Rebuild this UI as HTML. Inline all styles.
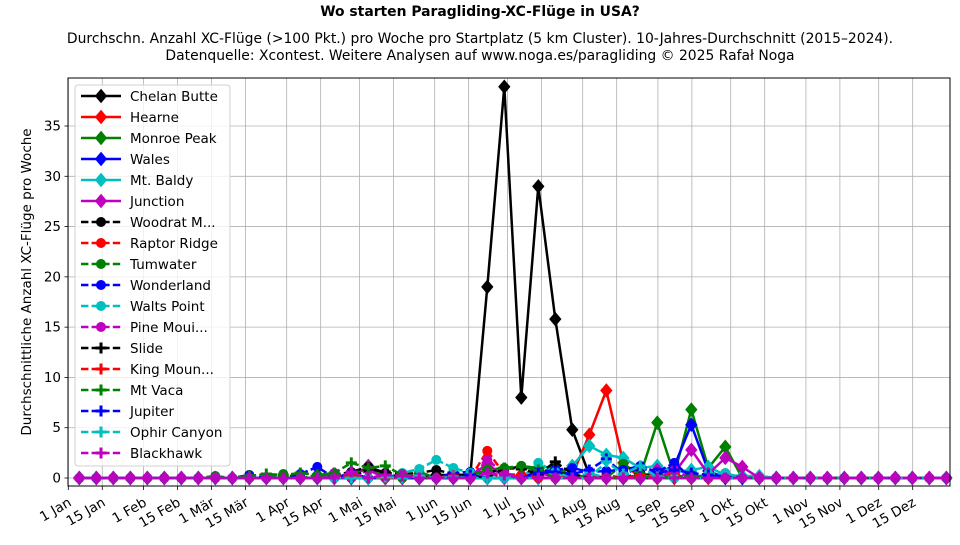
<!DOCTYPE html>
<html><head><meta charset="utf-8"><style>
body{margin:0;background:#fff;}
svg{font-family:"DejaVu Sans","Liberation Sans",sans-serif;}
</style></head><body>
<svg id="s" width="960" height="540" xmlns="http://www.w3.org/2000/svg">
<rect width="960" height="540" fill="#fff"/>
<text x="480" y="16" text-anchor="middle" font-size="13.9" font-weight="bold">Wo starten Paragliding-XC-Flüge in USA?</text>
<text x="480" y="43" text-anchor="middle" font-size="13.9">Durchschn. Anzahl XC-Flüge (&gt;100 Pkt.) pro Woche pro Startplatz (5 km Cluster). 10-Jahres-Durchschnitt (2015–2024).</text>
<text x="480" y="60" text-anchor="middle" font-size="13.9">Datenquelle: Xcontest. Weitere Analysen auf www.noga.es/paragliding © 2025 Rafał Noga</text>
<g id="grid" stroke="#b0b0b0" stroke-width="0.8"></g>
<g id="ylab" font-size="13.5" text-anchor="end"></g>
<g id="xlab" font-size="13.5" text-anchor="end"></g>
<text transform="translate(31,282) rotate(-90)" text-anchor="middle" font-size="13.5">Durchschnittliche Anzahl XC-Flüge pro Woche</text>
<g id="series"></g>
<rect x="68" y="78" width="882" height="408" fill="none" stroke="#000" stroke-width="1"/>
<g id="legend">
<rect x="75" y="85" width="155" height="381" rx="3" fill="#fff" fill-opacity="0.8" stroke="#d0d0d0"/>
<g id="legitems"></g>
<g font-size="13.5">
<text x="130" y="101">Chelan Butte</text>
<text x="130" y="122">Hearne</text>
<text x="130" y="143">Monroe Peak</text>
<text x="130" y="164">Wales</text>
<text x="130" y="185">Mt. Baldy</text>
<text x="130" y="206">Junction</text>
<text x="130" y="227">Woodrat M...</text>
<text x="130" y="248">Raptor Ridge</text>
<text x="130" y="269">Tumwater</text>
<text x="130" y="290">Wonderland</text>
<text x="130" y="311">Walts Point</text>
<text x="130" y="332">Pine Moui...</text>
<text x="130" y="353">Slide</text>
<text x="130" y="374">King Moun...</text>
<text x="130" y="395">Mt Vaca</text>
<text x="130" y="416">Jupiter</text>
<text x="130" y="437">Ophir Canyon</text>
<text x="130" y="458">Blackhawk</text>
</g>
</g>
</svg>
<script>
var NS="http://www.w3.org/2000/svg";
function el(t,a,p){var e=document.createElementNS(NS,t);for(var k in a)e.setAttribute(k,a[k]);p.appendChild(e);return e;}
var g=document.getElementById('grid'),yl=document.getElementById('ylab'),xl=document.getElementById('xlab');
function Y(v){return 478-10.057*v;}
for(var v=0;v<=35;v+=5){var y=Y(v);el('line',{x1:68,x2:950,y1:y,y2:y},g);el('line',{x1:64.5,x2:68,y1:y,y2:y,stroke:'#000'},g);var t=el('text',{x:61,y:y+4.5},yl);t.textContent=v;}
var days=[0,14,31,45,59,73,90,104,120,134,151,165,181,195,212,226,243,257,273,287,304,318,334,348];
var names=["1 Jan","15 Jan","1 Feb","15 Feb","1 Mär","15 Mär","1 Apr","15 Apr","1 Mai","15 Mai","1 Jun","15 Jun","1 Jul","15 Jul","1 Aug","15 Aug","1 Sep","15 Sep","1 Okt","15 Okt","1 Nov","15 Nov","1 Dez","15 Dez"];
days.forEach(function(d,i){var x=68.3+d*2.4264;el('line',{x1:x,x2:x,y1:78,y2:486},g);el('line',{x1:x,x2:x,y1:486,y2:490,stroke:'#000'},g);var t=el('text',{x:x+4,y:505,transform:'rotate(-30 '+(x+4)+' 505)'},xl);t.textContent=names[i];});
var S=[
['#000','d',0,{21:0.3,22:0.3,23:0.3,24:19,25:38.9,26:8,27:29,28:15.8,29:4.8,30:0.3}],
['#f00','d',0,{29:0.3,30:4.3,31:8.7,32:1.5}],
['#008000','d',0,{33:0.3,34:5.5,35:0.3,36:6.8,37:1.0,38:3.1}],
['#00f','d',0,{34:0.5,35:1.2,36:5.3,37:0.7}],
['#00bfbf','d',0,{29:1.2,30:3.2,31:2.3,32:2.0,33:1.0,34:1.2,35:0.6,36:0.8,37:1.1,38:0.3,39:0.2,40:0.2}],
['#bf00bf','d',0,{17:1.2,24:1.5,27:0.6,34:0.8,35:0.5,36:2.8,37:0.4,38:2.0,39:1.1}],
['#000','o',1,{15:0.3,16:0.6,17:1.1,18:0.5,19:0.4,20:0.5,21:0.8,22:0.4,23:0.2,24:0.6,25:0.8,26:1.2,27:0.5,28:0.6,29:0.3,33:0.5,35:0.3}],
['#f00','o',1,{16:0.2,20:0.3,24:2.7,25:0.4,26:0.3,31:0.3,34:0.4,35:0.3}],
['#008000','o',1,{8:0.2,10:0.3,12:0.4,14:0.3,16:0.5,17:0.8,18:0.3,20:0.6,24:0.8,25:1.0,26:1.2,27:1.0,28:1.0,29:0.4,32:1.4,33:0.3,36:0.3}],
['#00f','o',1,{10:0.3,13:0.4,14:1.1,16:0.5,19:0.4,22:0.5,23:0.6,27:0.7,28:0.8,29:1.0,30:0.6,31:0.7,32:0.8,33:1.2,34:0.6,35:1.5,38:0.3}],
['#00bfbf','o',1,{19:0.5,20:0.9,21:1.8,22:1.0,23:0.5,27:1.5,28:0.6,30:0.5,34:0.3,37:0.4,38:0.5}],
['#bf00bf','o',1,{15:0.5,17:0.8,19:0.4,24:1.8,25:0.5,27:0.3,35:0.8}],
['#000','p',1,{17:0.9,18:0.6,23:0.3,25:1.0,26:0.9,27:0.4,28:1.6,29:0.4}],
['#f00','p',1,{16:0.3,22:0.2,24:0.6,26:0.3,33:0.3}],
['#008000','p',1,{10:0.2,11:0.4,12:0.3,13:0.5,14:0.3,15:0.5,16:1.5,17:1.0,18:1.2,19:0.3,23:0.3,24:0.8,25:1.0,26:1.1,27:0.8,34:0.2,36:0.3}],
['#00f','p',1,{18:0.2,23:0.3,27:0.5,28:0.6,29:0.4,30:0.8,31:1.9,32:0.4,33:1.0,34:0.5,35:0.8,36:0.5,37:0.3}],
['#00bfbf','p',1,{18:0.1,20:0.2,22:0.1,31:1.6,32:0.4,33:1.2,34:0.1}],
['#bf00bf','p',1,{16:0.6,18:0.3,19:0.2,24:0.5,25:0.3}]
];
var sg=document.getElementById('series'),lg=document.getElementById('legitems');
function marker(par,c,m,x,y){
 if(m=='d')el('path',{d:'M'+x+' '+(y-6.5)+'L'+(x+5.5)+' '+y+'L'+x+' '+(y+6.5)+'L'+(x-5.5)+' '+y+'Z',fill:c,stroke:c},par);
 else if(m=='o')el('circle',{cx:x,cy:y,r:5,fill:c},par);
 else el('path',{d:'M'+(x-5.5)+' '+y+'H'+(x+5.5)+'M'+x+' '+(y-5.5)+'V'+(y+5.5),stroke:c,'stroke-width':3},par);
}
S.forEach(function(s,k){
 var pts=[];for(var i=0;i<52;i++){pts.push([79.3+17.0*i,Y(s[3][i]||0)]);}
 var a={points:pts.map(function(p){return p.join(',')}).join(' '),fill:'none',stroke:s[0],'stroke-width':2.5,'stroke-linejoin':'round'};
 if(s[2])a['stroke-dasharray']='7.4,3.2';
 el('polyline',a,sg);
 pts.forEach(function(p){marker(sg,s[0],s[1],p[0],p[1]);});
 var ly=96+21*k;var la={x1:81,x2:121,y1:ly,y2:ly,stroke:s[0],'stroke-width':2.5};
 if(s[2])la['stroke-dasharray']='7.4,3.2';
 el('line',la,lg);marker(lg,s[0],s[1],101,ly);
});
</script>
</body></html>
